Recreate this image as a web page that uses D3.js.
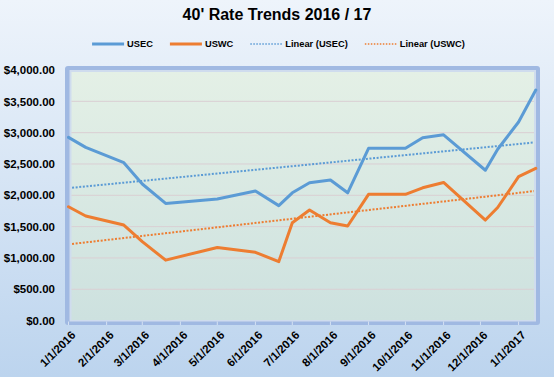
<!DOCTYPE html>
<html><head><meta charset="utf-8">
<script src="https://cdn.jsdelivr.net/npm/d3@7/dist/d3.min.js"></script>
<style>
body{margin:0;background:#fff;}
svg{display:block;}
text{font-family:"Liberation Sans",Arial,sans-serif;font-weight:bold;fill:#000;}
</style>
</head><body>
<svg id="chart" width="554" height="377"></svg>
<script>
// ---- data ----
const title = "40' Rate Trends 2016 / 17";
const dates = ["1/1/2016","1/15/2016","2/15/2016","3/1/2016","3/20/2016","5/1/2016","6/1/2016","6/20/2016",
  "7/1/2016","7/15/2016","8/1/2016","8/15/2016","9/1/2016","10/1/2016","10/15/2016","11/1/2016",
  "12/5/2016","12/15/2016","1/1/2017","1/15/2017"];
const usec = [2925,2765,2520,2180,1870,1940,2070,1835,2040,2200,2245,2040,2750,2750,2920,2965,2400,2735,3170,3680];
const uswc = [1818,1670,1525,1260,965,1168,1090,942,1563,1765,1563,1510,2015,2015,2120,2205,1605,1805,2297,2430];
const seriesNames = ["USEC","USWC"];
const trendNames = ["Linear (USEC)","Linear (USWC)"];
const xTickLabels = ["1/1/2016","2/1/2016","3/1/2016","4/1/2016","5/1/2016","6/1/2016","7/1/2016",
  "8/1/2016","9/1/2016","10/1/2016","11/1/2016","12/1/2016","1/1/2017"];
const yTickValues = [0,500,1000,1500,2000,2500,3000,3500,4000];

// ---- setup ----
const parse = d3.timeParse("%m/%d/%Y");
const colors = ["#5b9bd5","#ed7d31"];
const svg = d3.select("#chart");
const W = 554, H = 377;
const defs = svg.append("defs");

const bg = defs.append("linearGradient").attr("id","bg").attr("x1",0).attr("y1",0).attr("x2",0).attr("y2",1);
bg.append("stop").attr("offset","0%").attr("stop-color","#eef4fb");
bg.append("stop").attr("offset","100%").attr("stop-color","#bcd4ee");
const pg = defs.append("linearGradient").attr("id","pg").attr("x1",0).attr("y1",0).attr("x2",0).attr("y2",1);
pg.append("stop").attr("offset","0%").attr("stop-color","#e4f0e6");
pg.append("stop").attr("offset","100%").attr("stop-color","#cde1df");

svg.append("rect").attr("width",W).attr("height",H).attr("fill","url(#bg)");

// plot geometry
const inner = {x0:71.5, y0:72, x1:534, y1:320};
const x = d3.scaleTime().domain([parse(dates[0]), parse(dates[dates.length-1])]).range([68.5, 535.8]);
const y = d3.scaleLinear().domain([0,4000]).range([320.6, 70]);

// frame (walls / floor)
svg.append("rect").attr("x",65).attr("y",66).attr("width",475).attr("height",259).attr("rx",3)
  .attr("fill","#a0b9e2");
svg.append("rect").attr("x",69.5).attr("y",70).attr("width",466.5).attr("height",251.5)
  .attr("fill","#cfdcee");
defs.append("clipPath").attr("id","plotclip").append("rect")
  .attr("x",inner.x0).attr("y",inner.y0).attr("width",inner.x1-inner.x0).attr("height",inner.y1-inner.y0);
svg.append("rect").attr("x",inner.x0).attr("y",inner.y0).attr("width",inner.x1-inner.x0).attr("height",inner.y1-inner.y0)
  .attr("fill","url(#pg)");

// gridlines
svg.append("g").selectAll("line").data(yTickValues.filter(v=>v>0 && v<4000)).join("line")
  .attr("x1",inner.x0).attr("x2",inner.x1).attr("y1",d=>y(d)).attr("y2",d=>y(d))
  .attr("stroke","#dacfd3").attr("stroke-width",1);

// floor tick marks
const xTickDates = xTickLabels.map(parse);
svg.append("g").selectAll("line").data(xTickDates).join("line")
  .attr("x1",d=>x(d)).attr("x2",d=>x(d)).attr("y1",321.5).attr("y2",325)
  .attr("stroke","#d4e1f3").attr("stroke-width",1);

// y axis labels
const yAxis = d3.axisLeft(y).tickValues(yTickValues).tickFormat(d3.format("$,.2f")).tickSize(0).tickPadding(0);
const ya = svg.append("g").attr("transform","translate(55,0)").call(yAxis);
ya.select(".domain").remove();
ya.selectAll("text").attr("font-size","11.5px").attr("fill","#000")
  .style("font-family","'Liberation Sans',Arial,sans-serif").style("font-weight","bold");

// x axis labels
const xAxis = d3.axisBottom(x).tickValues(xTickDates).tickFormat((d,i)=>xTickLabels[i]).tickSize(0).tickPadding(0);
const xa = svg.append("g").attr("transform","translate(0,0)").call(xAxis);
xa.select(".domain").remove();
xa.selectAll(".tick").attr("transform",d=>`translate(${x(d)+5},333)`);
xa.selectAll("text").attr("transform","rotate(-45)").attr("text-anchor","end").attr("dy","0.35em").attr("y",0)
  .attr("font-size","11.5px").attr("fill","#000")
  .style("font-family","'Liberation Sans',Arial,sans-serif").style("font-weight","bold");

// trendlines (least squares vs date)
const pts = dates.map(parse);
function trend(vals){
  const xs = pts.map(d=>d.getTime()/864e5);
  const mx = d3.mean(xs), my = d3.mean(vals);
  let sxy=0, sxx=0;
  xs.forEach((v,i)=>{sxy+=(v-mx)*(vals[i]-my); sxx+=(v-mx)*(v-mx);});
  const b = sxy/sxx, a = my - b*mx;
  const d0 = pts[0], d1 = pts[pts.length-1];
  return [[d0, a+b*d0.getTime()/864e5],[d1, a+b*d1.getTime()/864e5]];
}
const tl = d3.line().x(d=>x(d[0])).y(d=>y(d[1]));
const tg = svg.append("g").attr("clip-path","url(#plotclip)");
[usec, uswc].forEach((s,i)=>{
  tg.append("path").attr("d",tl(trend(s))).attr("fill","none").attr("stroke",colors[i])
    .attr("stroke-width",2).attr("stroke-dasharray","2,1.6");
});

// series lines
const line = d3.line().x((d,i)=>x(pts[i])).y(d=>y(d));
[usec, uswc].forEach((s,i)=>{
  svg.append("path").attr("d",line(s)).attr("fill","none").attr("stroke",colors[i])
    .attr("stroke-width",3).attr("stroke-linejoin","round").attr("stroke-linecap","round");
});

// title
svg.append("text").attr("x",277).attr("y",20).attr("text-anchor","middle").attr("font-size","16px").text(title);

// legend
const items = [
  {name:seriesNames[0], color:colors[0], dash:null},
  {name:seriesNames[1], color:colors[1], dash:null},
  {name:trendNames[0], color:colors[0], dash:"1.5,1.5"},
  {name:trendNames[1], color:colors[1], dash:"1.5,1.5"}
];
const lg = svg.append("g");
const symW = 32, symGap = 3, itemGap = 17, ly = 44;
let cx = 0;
const nodes = items.map(it=>{
  const g = lg.append("g");
  g.append("line").attr("x1",0).attr("x2",symW).attr("y1",0).attr("y2",0).attr("stroke",it.color)
    .attr("stroke-width",it.dash?1.5:3).attr("stroke-dasharray",it.dash);
  const t = g.append("text").attr("x",symW+symGap).attr("y",0).attr("dy","0.35em").attr("font-size","9.3px").text(it.name);
  const w = symW+symGap+t.node().getComputedTextLength();
  g.attr("transform",`translate(${cx},${ly})`);
  cx += w + itemGap;
  return g;
});
const total = cx - itemGap;
lg.attr("transform",`translate(${278.5 - total/2},0)`);
</script>
</body></html>
